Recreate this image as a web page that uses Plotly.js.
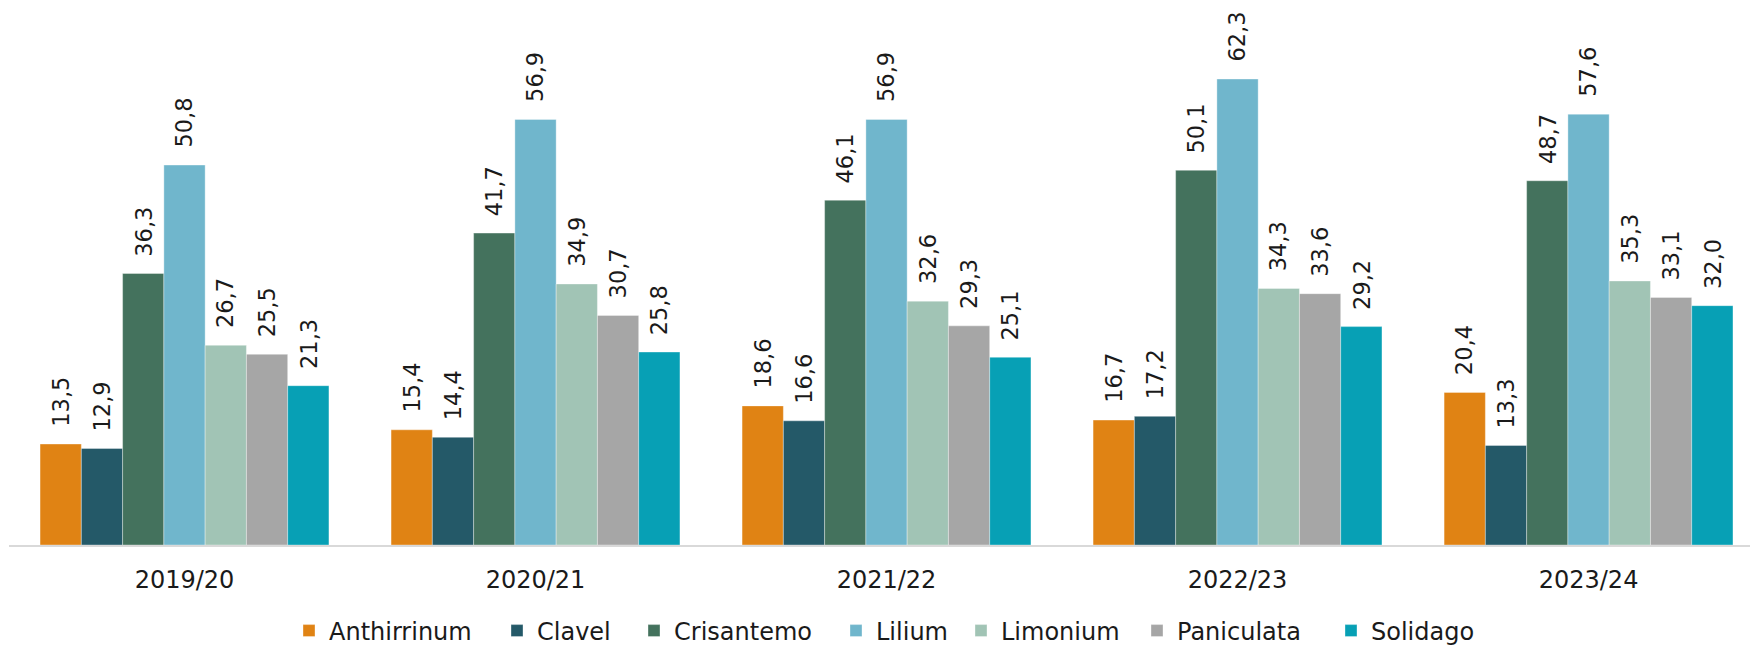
<!DOCTYPE html>
<html>
<head>
<meta charset="utf-8">
<script src="https://cdn.plot.ly/plotly-3.0.1.min.js"></script>
<style>html,body{margin:0;padding:0;background:#fff;overflow:hidden}#chart{width:1750px;height:648px}</style>
</head>
<body>
<div id="chart"></div>
<script>
const seasons = ["2019/20", "2020/21", "2021/22", "2022/23", "2023/24"];
const flowers = ["Anthirrinum", "Clavel", "Crisantemo", "Lilium", "Limonium", "Paniculata", "Solidago"];
const anthirrinum = [13.5, 15.4, 18.6, 16.7, 20.4];
const clavel      = [12.9, 14.4, 16.6, 17.2, 13.3];
const crisantemo  = [36.3, 41.7, 46.1, 50.1, 48.7];
const lilium      = [50.8, 56.9, 56.9, 62.3, 57.6];
const limonium    = [26.7, 34.9, 32.6, 34.3, 35.3];
const paniculata  = [25.5, 30.7, 29.3, 33.6, 33.1];
const solidago    = [21.3, 25.8, 25.1, 29.2, 32.0];

const seriesValues = [anthirrinum, clavel, crisantemo, lilium, limonium, paniculata, solidago];
const colors = ["#E08314", "#245968", "#44725D", "#70B6CC", "#A1C4B5", "#A6A6A6", "#07A0B5"];
// left edge (px) of each legend entry
const legendLeft = [289, 497, 634, 836, 961, 1137, 1331];

const FONT = "'DejaVu Sans', Verdana, sans-serif";
const bargap = 0.177;
const nSeries = flowers.length;
const barUnit = (1 - bargap) / nSeries;

const traces = flowers.map((name, j) => ({
  type: "bar",
  name: name,
  x: seasons,
  y: seriesValues[j],
  legend: j === 0 ? "legend" : "legend" + (j + 1),
  marker: { color: colors[j], line: { color: "rgba(255,255,255,0.35)", width: 1 } },
  hoverinfo: "name+y"
}));

const annotations = [];
seriesValues.forEach((vals, j) => {
  vals.forEach((v, i) => {
    annotations.push({
      xref: "x", yref: "y",
      x: i + (j - (nSeries - 1) / 2) * barUnit,
      y: v,
      text: v.toFixed(1).replace(".", ","),
      textangle: -90,
      showarrow: false,
      xanchor: "center",
      yanchor: "bottom",
      yshift: 15,
      font: { family: FONT, size: 22.5, color: "#1a1a1a" }
    });
  });
});

const layout = {
  width: 1750, height: 648,
  margin: { l: 9, r: 0, t: 5, b: 103, autoexpand: false },
  paper_bgcolor: "#ffffff",
  plot_bgcolor: "#ffffff",
  barmode: "group",
  bargap: bargap,
  bargroupgap: 0,
  separators: ",.",
  font: { family: FONT, size: 24, color: "#1a1a1a" },
  xaxis: {
    type: "category",
    range: [-0.5, 4.46],
    automargin: false,
    showline: true, linecolor: "#D9D9D9", linewidth: 2,
    showgrid: false, zeroline: false,
    ticks: "outside", ticklen: 12, tickcolor: "rgba(0,0,0,0)",
    tickfont: { family: FONT, size: 24, color: "#1a1a1a" },
    fixedrange: true
  },
  yaxis: {
    range: [0, 72.2],
    visible: false, showgrid: false, zeroline: false, fixedrange: true
  },
  showlegend: true,
  annotations: annotations
};

flowers.forEach((name, j) => {
  const key = j === 0 ? "legend" : "legend" + (j + 1);
  layout[key] = {
    orientation: "h",
    xref: "container", yref: "container",
    x: legendLeft[j] / 1750, xanchor: "left",
    y: (648 - 631) / 648, yanchor: "middle",
    bgcolor: "rgba(0,0,0,0)",
    font: { family: FONT, size: 24, color: "#1a1a1a" },
    itemclick: false, itemdoubleclick: false
  };
});

Plotly.newPlot("chart", traces, layout, { displayModeBar: false, staticPlot: true });
</script>
</body>
</html>
